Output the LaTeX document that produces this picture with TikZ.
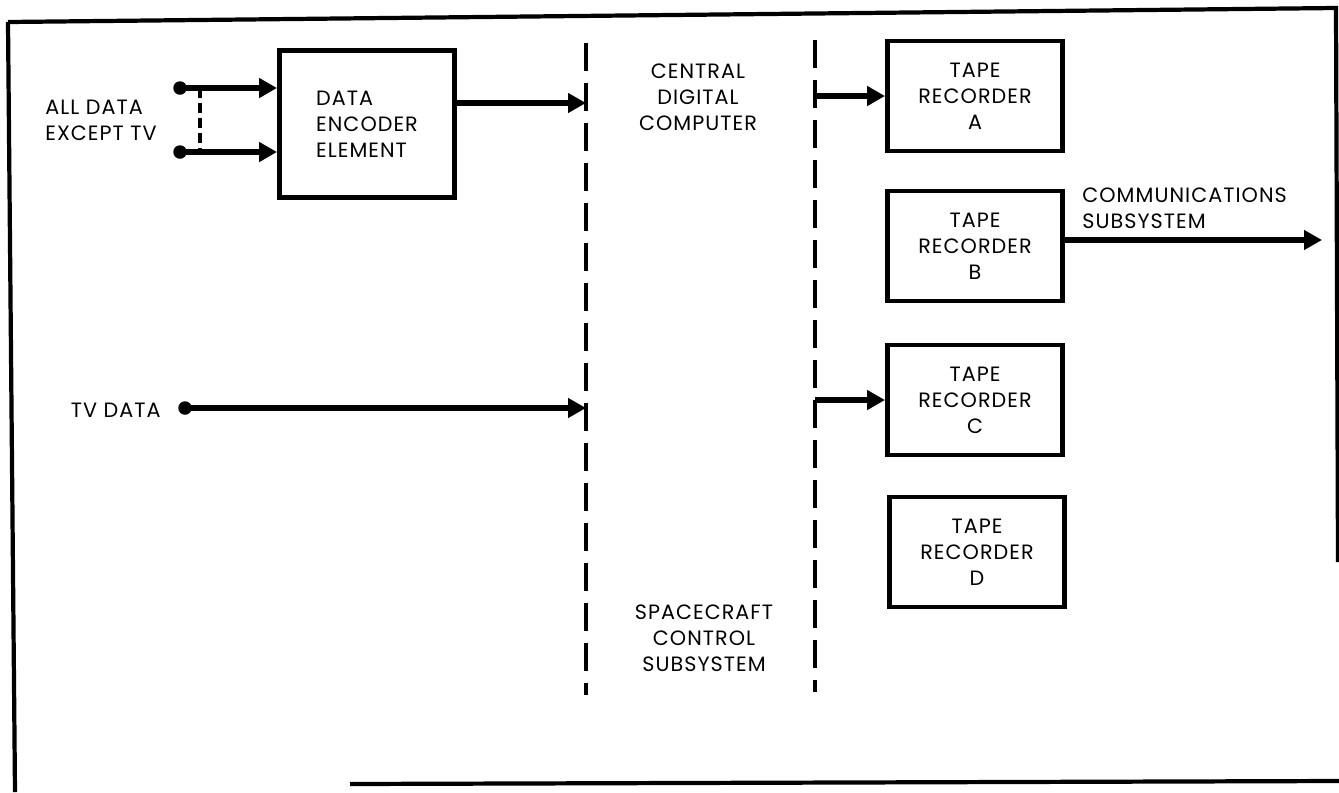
\documentclass[tikz,border=0pt]{standalone}
\usepackage{fontspec}
\setmainfont{Poppins}[LetterSpace=5]
\usepackage{tikz}
\usetikzlibrary{arrows.meta,positioning,calc}

\begin{document}
\begin{tikzpicture}[
  x=0.02cm, y=-0.02cm,
  font=\fontsize{11.8}{14.8}\selectfont,
  block/.style={draw,line width=2.8pt,align=center,minimum width=3.5cm,minimum height=2.2cm,inner sep=0pt},
  txt/.style={inner sep=0pt,align=center},
  arrow/.style={-{Triangle[length=0.36cm,width=0.38cm]},line width=3.2pt},
  divider/.style={line width=2pt,dash pattern=on 0.56cm off 0.24cm},
  link/.style={line width=2pt,dash pattern=on 0.2cm off 0.1cm},
  frame/.style={line width=2.4pt},
  dot/.style={circle,fill,inner sep=0pt,minimum size=0.27cm}
]
\useasboundingbox (0,0) rectangle (1339,792);

% outer frame (as scanned)
\draw[frame] (8,22) -- (1336,8) -- (1338,562);
\draw[frame] (8,22) -- (15,792);
\draw[frame] (350,784) -- (1339,781);

% boxes
\node[block,minimum height=2.94cm,align=left] (enc) at (367,124) {DATA\\ENCODER\\ELEMENT};
\node[block] (tapeA) at (975,96) {TAPE\\RECORDER\\A};
\node[block] (tapeB) at (975,246) {TAPE\\RECORDER\\B};
\node[block] (tapeC) at (975,400) {TAPE\\RECORDER\\C};
\node[block] (tapeD) at (977,552) {TAPE\\RECORDER\\D};

% labels
\node[txt,align=left,anchor=west] (alldata) at (45,120) {ALL DATA\\EXCEPT TV};
\node[txt,anchor=east] (tvlbl) at (161,410) {TV DATA};
\node[txt] (cdc) at (698,97) {CENTRAL\\DIGITAL\\COMPUTER};
\node[txt] (scs) at (704,638) {SPACECRAFT\\CONTROL\\SUBSYSTEM};
\node[txt,align=left,anchor=west] (comms) at (1082,208) {COMMUNICATIONS\\SUBSYSTEM};

% dividers
\coordinate (d1top) at (586,43);
\coordinate (d1bot) at (586,695);
\coordinate (d2top) at (815,40);
\coordinate (d2bot) at (815,692);
\draw[divider] (d1top) -- (d1bot);
\draw[divider] (d2top) -- (d2bot);

% inputs
\node[dot] (inA) at (180,88) {};
\node[dot] (inB) at (180,152) {};
\node[dot] (tvin) at (185,408) {};
\draw[arrow] (inA.center) -- (inA -| enc.west);
\draw[arrow] (inB.center) -- (inB -| enc.west);
\draw[link] ($(inA)+(20,0)$) -- ($(inB)+(20,0)$);
\draw[arrow] (tvin.center) -- (tvin -| d1top);

% outputs
\coordinate (encout) at (586,103);
\draw[arrow] (encout -| enc.east) -- (encout);
\draw[arrow] (d2top |- tapeA.west) -- (tapeA.west);
\draw[arrow] (d2top |- tapeC.west) -- (tapeC.west);
\coordinate (commsend) at (1322,240);
\draw[arrow] (commsend -| tapeB.east) -- (commsend);
\end{tikzpicture}
\end{document}
